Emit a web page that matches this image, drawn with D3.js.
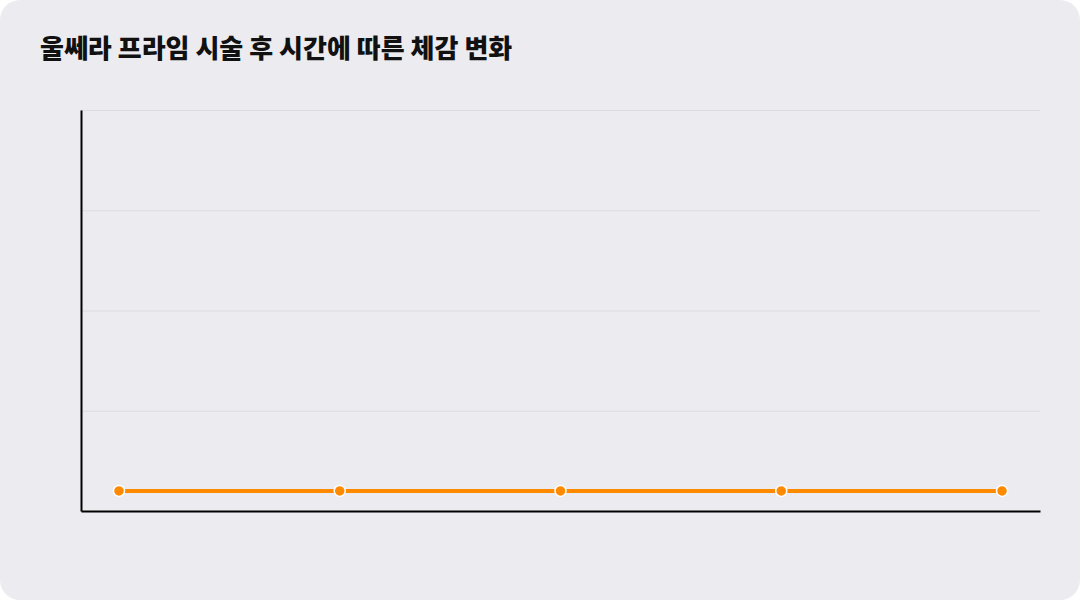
<!DOCTYPE html>
<html>
<head>
<meta charset="utf-8">
<script src="https://cdn.jsdelivr.net/npm/d3@7"></script>
<style>
  html, body { margin: 0; padding: 0; background: #fff; }
  svg { display: block; }
</style>
</head>
<body>
<svg id="chart"></svg>
<script>
// x categories (labels are not shown on the reference)
var stages = ['시술 직후', '1주 후', '1개월 후', '3개월 후', '6개월 후']
// felt change, same level at each stage
var values = [5, 5, 5, 5, 5]
var yTicks = [0, 25, 50, 75, 100]

var W = 1080, H = 600
var m = {top: 110, right: 40, bottom: 89, left: 81}
var w = W - m.left - m.right, h = H - m.top - m.bottom

var svg = d3.select('#chart').attr('width', W).attr('height', H)

svg.append('rect')
  .attr('width', W).attr('height', H)
  .attr('rx', 20).attr('ry', 20)
  .attr('fill', '#ecebf0')

svg.append('text')
  .attr('x', 40).attr('y', 58)
  .attr('font-family', '"Noto Sans CJK KR", "Noto Sans", sans-serif')
  .attr('font-weight', 800)
  .attr('font-size', 26)
  .attr('fill', '#111')
  .text('울쎄라 프라임 시술 후 시간에 따른 체감 변화')

var g = svg.append('g').attr('transform', 'translate(' + m.left + ',' + m.top + ')')

var x = d3.scalePoint().domain(stages).range([0, w]).padding(0.172)
var y = d3.scaleLinear().domain([0, 100]).range([h, 0])

// grid
g.append('g')
  .selectAll('line')
  .data(yTicks.slice(1))
  .join('line')
  .attr('x1', 0).attr('x2', w)
  .attr('y1', function(d) { return y(d) + 0.5 })
  .attr('y2', function(d) { return y(d) + 0.5 })
  .attr('stroke', '#dcdbe0')
  .attr('stroke-width', 1)

// axes, no labels
var yAxis = g.append('g')
  .call(d3.axisLeft(y).tickValues(yTicks).tickSize(0).tickFormat(''))
yAxis.select('.domain').attr('stroke', '#000').attr('stroke-width', 2)

var xAxis = g.append('g')
  .attr('transform', 'translate(0,' + h + ')')
  .call(d3.axisBottom(x).tickSize(0).tickFormat(''))
xAxis.select('.domain').attr('stroke', '#000').attr('stroke-width', 2)

var pts = stages.map(function(s, i) { return {s: s, v: values[i]} })

g.append('path')
  .datum(pts)
  .attr('fill', 'none')
  .attr('stroke', '#ff8a00')
  .attr('stroke-width', 4)
  .attr('d', d3.line()
    .x(function(d) { return x(d.s) })
    .y(function(d) { return y(d.v) }))

g.selectAll('circle.pt')
  .data(pts)
  .join('circle')
  .attr('class', 'pt')
  .attr('cx', function(d) { return x(d.s) })
  .attr('cy', function(d) { return y(d.v) })
  .attr('r', 5.5)
  .attr('fill', '#ff8a00')
  .attr('stroke', '#fff')
  .attr('stroke-width', 1.5)
</script>
</body>
</html>
